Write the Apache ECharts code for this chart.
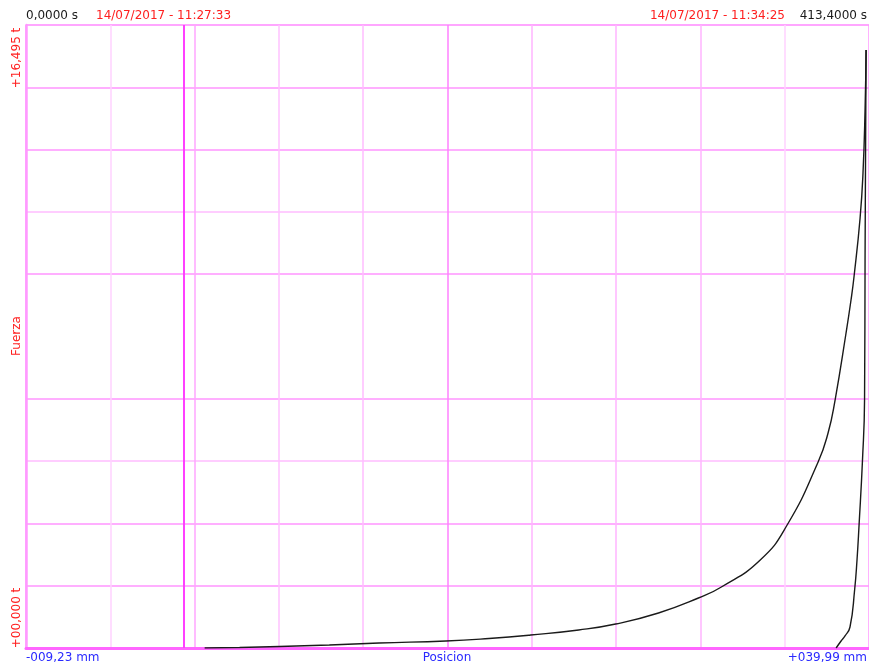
<!DOCTYPE html>
<html>
<head>
<meta charset="utf-8">
<script src="https://cdn.jsdelivr.net/npm/echarts@6/dist/echarts.min.js"></script>
<style>
  html, body { margin: 0; padding: 0; background: #ffffff; }
  #chart { width: 869px; height: 666px; }
</style>
</head>
<body>
<div id="chart"></div>
<script>
// Axis ranges (position in mm, force in t)
const posRange = [-9.23, 39.99];
const forceRange = [0, 16.495];

// Loading branch: position (mm) and force (t)
const loadPos = [1.20, 3.24, 5.57, 8.48, 11.39, 15.29, 17.80, 20.24, 23.04, 25.20, 27.70, 30.03, 31.37,
  33.64, 35.21, 37.02, 37.60, 38.01, 38.65, 38.94, 39.12, 39.47, 39.64, 39.76, 39.82];
const loadForce = [0, 0.013, 0.040, 0.079, 0.132, 0.185, 0.252, 0.344, 0.477, 0.635, 0.927, 1.324, 1.615,
  2.330, 3.257, 4.925, 5.692, 6.566, 8.340, 9.214, 9.849, 11.385, 12.577, 14.244, 15.833];

// Unloading branch
const unloadPos = [39.82, 39.79, 39.76, 39.73, 39.61, 39.41, 39.29, 39.15, 38.88, 38.59, 38.36, 38.07];
const unloadForce = [15.833, 13.185, 10.273, 6.566, 4.978, 3.257, 2.330, 1.536, 0.556, 0.318, 0.185, 0];

// Header / axis texts
const startTime = '0,0000 s';
const startDate = '14/07/2017 - 11:27:33';
const endDate = '14/07/2017 - 11:34:25';
const endTime = '413,4000 s';
const yMaxLabel = '+16,495 t';
const yMinLabel = '+00,000 t';
const yName = 'Fuerza';
const xMinLabel = '-009,23 mm';
const xMaxLabel = '+039,99 mm';
const xName = 'Posicion';

const zip = (xs, ys) => xs.map((x, i) => [x, ys[i]]);

const RED = '#ff2020';
const BLUE = '#2a2aff';
const INK = '#1a1a1a';
const FONT = '12px "DejaVu Sans", sans-serif';

// grid division shades (10 divisions on each axis)
const vGrid = ['#ff99ff', '#ffd2ff', '#ffa6ff', '#ffc2ff', '#ffbcff', '#ff80ff',
  '#ffb4ff', '#ffb4ff', '#ffb4ff', '#ffd2ff', '#ff99ff'];
const hGrid = ['#ff66ff', '#ff94ff', '#ff94ff', '#ffbcff', '#ff94ff', 'rgba(0,0,0,0)',
  '#ff94ff', '#ffbcff', '#ff94ff', '#ff94ff', '#ff88ff'];

const chart = echarts.init(document.getElementById('chart'), null, { renderer: 'canvas' });

const hidden = { axisTick: { show: false }, axisLabel: { show: false } };

const curveStyle = { color: INK, width: 1.4 };

chart.setOption({
  backgroundColor: '#ffffff',
  animation: false,
  grid: { left: 26, top: 25, width: 845, height: 623, containLabel: false },
  xAxis: [
    {
      type: 'value', min: posRange[0], max: posRange[1], position: 'top',
      axisLine: { show: true, lineStyle: { color: '#ff88ff', width: 2 } },
      splitLine: { show: false }, ...hidden
    },
    {
      type: 'value', min: 0, max: 10, interval: 1, position: 'bottom',
      axisLine: { show: true, onZero: false, lineStyle: { color: '#ff66ff', width: 3 } },
      splitLine: { show: true, lineStyle: { color: vGrid, width: 1.5 } }, ...hidden
    }
  ],
  yAxis: [
    {
      type: 'value', min: forceRange[0], max: forceRange[1], position: 'right',
      axisLine: { show: false }, splitLine: { show: false }, ...hidden
    },
    {
      type: 'value', min: 0, max: 10, interval: 1, position: 'left',
      axisLine: { show: true, onZero: false, lineStyle: { color: '#ff99ff', width: 2.5 } },
      splitLine: { show: true, lineStyle: { color: hGrid, width: 1.5 } }, ...hidden
    }
  ],
  series: [
    {
      type: 'line', xAxisIndex: 0, yAxisIndex: 0,
      data: zip(loadPos, loadForce),
      showSymbol: false, smooth: 0.5,
      lineStyle: curveStyle,
      markLine: {
        silent: true, symbol: 'none', label: { show: false },
        lineStyle: { color: '#ff40ff', width: 2, type: 'solid' },
        data: [{ xAxis: 0 }]
      },
      z: 5
    },
    {
      type: 'line', xAxisIndex: 0, yAxisIndex: 0,
      data: zip(unloadPos, unloadForce),
      showSymbol: false, smooth: 0.5,
      lineStyle: curveStyle,
      z: 5
    }
  ],
  graphic: [
    { type: 'text', x: 26, y: 16, style: { text: startTime, font: FONT, fill: INK, textAlign: 'left', textVerticalAlign: 'middle' } },
    { type: 'text', x: 96, y: 16, style: { text: startDate, font: FONT, fill: RED, textAlign: 'left', textVerticalAlign: 'middle' } },
    { type: 'text', x: 785, y: 16, style: { text: endDate, font: FONT, fill: RED, textAlign: 'right', textVerticalAlign: 'middle' } },
    { type: 'text', x: 867, y: 16, style: { text: endTime, font: FONT, fill: INK, textAlign: 'right', textVerticalAlign: 'middle' } },
    { type: 'text', x: 17, y: 58, rotation: Math.PI / 2, style: { text: yMaxLabel, font: FONT, fill: RED, textAlign: 'center', textVerticalAlign: 'middle' } },
    { type: 'text', x: 17, y: 336, rotation: Math.PI / 2, style: { text: yName, font: FONT, fill: RED, textAlign: 'center', textVerticalAlign: 'middle' } },
    { type: 'text', x: 17, y: 618, rotation: Math.PI / 2, style: { text: yMinLabel, font: FONT, fill: RED, textAlign: 'center', textVerticalAlign: 'middle' } },
    { type: 'text', x: 26, y: 658, style: { text: xMinLabel, font: FONT, fill: BLUE, textAlign: 'left', textVerticalAlign: 'middle' } },
    { type: 'text', x: 447, y: 658, style: { text: xName, font: FONT, fill: BLUE, textAlign: 'center', textVerticalAlign: 'middle' } },
    { type: 'text', x: 867, y: 658, style: { text: xMaxLabel, font: FONT, fill: BLUE, textAlign: 'right', textVerticalAlign: 'middle' } }
  ]
});
</script>
</body>
</html>
